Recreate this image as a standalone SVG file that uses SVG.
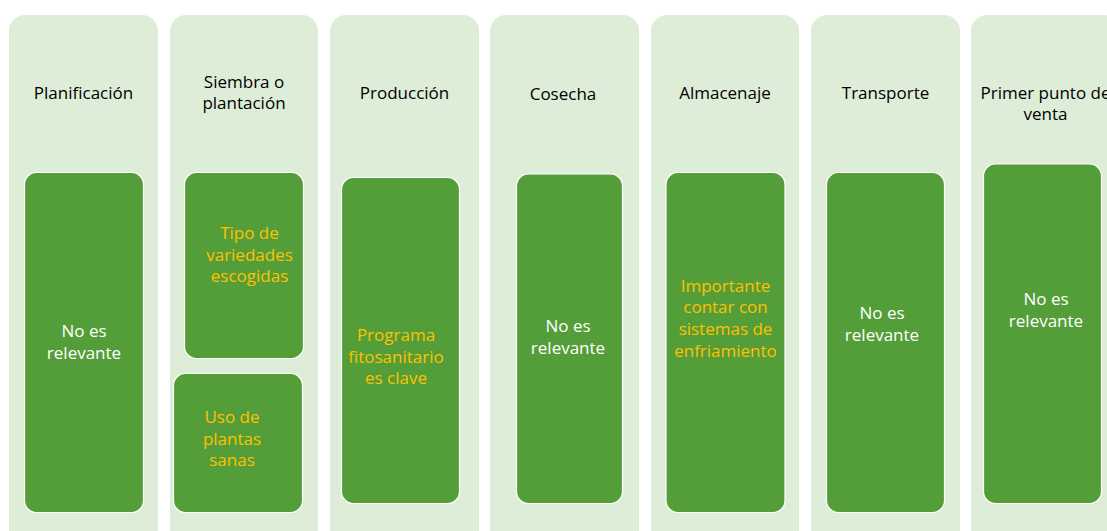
<svg xmlns="http://www.w3.org/2000/svg" width="1107" height="531" viewBox="0 0 1107 531">
<style>
.col{fill:#DDEDD7;}
.box{fill:#549E39;stroke:#FFFFFF;stroke-width:1.2;}
text{font-family:"Open Sans","Liberation Sans",sans-serif;font-size:17px;text-anchor:middle;}
.h{fill:#000000;}
.w{fill:#FFFFFF;}
.o{fill:#FFC000;}
</style>
<rect width="1107" height="531" fill="#FFFFFF"/>
<g id="connectors"></g>
<g id="planificacion">
<rect class="col" x="9" y="15" width="149" height="540" rx="16"/>
<text class="h" x="83.5" y="99">Planificación</text>
<rect class="box" x="24.5" y="172.5" width="119" height="340" rx="12"/>
<text class="w" x="84" y="337">No es</text>
<text class="w" x="84" y="359">relevante</text>
</g>
<g id="siembra">
<rect class="col" x="170" y="15" width="148" height="540" rx="16"/>
<text class="h" x="244" y="88">Siembra o</text>
<text class="h" x="244" y="109">plantación</text>
<rect class="box" x="184.5" y="172.5" width="119" height="186" rx="12"/>
<text class="o" x="249.5" y="239">Tipo de</text>
<text class="o" x="249.5" y="260.5">variedades</text>
<text class="o" x="249.5" y="282">escogidas</text>
<rect class="box" x="173.5" y="373.5" width="129" height="139" rx="12"/>
<text class="o" x="232" y="423">Uso de</text>
<text class="o" x="232" y="444.5">plantas</text>
<text class="o" x="232" y="466">sanas</text>
</g>
<g id="produccion">
<rect class="col" x="330" y="15" width="149" height="540" rx="16"/>
<text class="h" x="404.5" y="99">Producción</text>
<rect class="box" x="341.5" y="177.5" width="118" height="326" rx="12"/>
<text class="o" x="396" y="341">Programa</text>
<text class="o" x="396" y="362.5">fitosanitario</text>
<text class="o" x="396" y="384">es clave</text>
</g>
<g id="cosecha">
<rect class="col" x="490" y="15" width="149" height="540" rx="16"/>
<text class="h" x="563" y="100">Cosecha</text>
<rect class="box" x="516.5" y="174" width="106" height="329.5" rx="12"/>
<text class="w" x="568" y="332">No es</text>
<text class="w" x="568" y="353.5">relevante</text>
</g>
<g id="almacenaje">
<rect class="col" x="651" y="15" width="148" height="540" rx="16"/>
<text class="h" x="725" y="99">Almacenaje</text>
<rect class="box" x="666" y="172.5" width="119" height="340" rx="12"/>
<text class="o" x="725.5" y="291.5">Importante</text>
<text class="o" x="725.5" y="313">contar con</text>
<text class="o" x="725.5" y="335">sistemas de</text>
<text class="o" x="725.5" y="356.5">enfriamiento</text>
</g>
<g id="transporte">
<rect class="col" x="811" y="15" width="149" height="540" rx="16"/>
<text class="h" x="885.5" y="99">Transporte</text>
<rect class="box" x="826.5" y="172.5" width="118" height="340" rx="12"/>
<text class="w" x="882" y="319">No es</text>
<text class="w" x="882" y="341">relevante</text>
</g>
<g id="primer-punto">
<rect class="col" x="971" y="15" width="149" height="540" rx="16"/>
<text class="h" x="1045.5" y="98.5">Primer punto de</text>
<text class="h" x="1045.5" y="120">venta</text>
<rect class="box" x="983.5" y="164" width="118" height="339.5" rx="12"/>
<text class="w" x="1046" y="305">No es</text>
<text class="w" x="1046" y="326.5">relevante</text>
</g>
</svg>
